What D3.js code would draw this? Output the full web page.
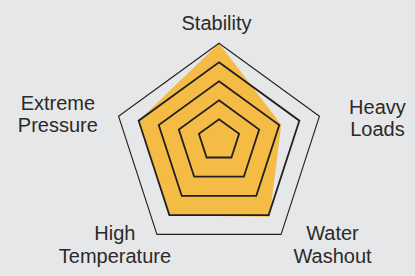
<!DOCTYPE html>
<html><head><meta charset="utf-8">
<script src="https://cdn.jsdelivr.net/npm/d3@7"></script>
<style>
html,body{margin:0;padding:0;background:#e6e7e8;}
svg{display:block;}
</style></head>
<body>
<svg id="chart" width="415" height="276"></svg>
<script>
const axes = ["Stability", "Heavy Loads", "Water Washout", "High Temperature", "Extreme Pressure"];
const axisLabelLines = [["Stability"], ["Heavy", "Loads"], ["Water", "Washout"], ["High", "Temperature"], ["Extreme", "Pressure"]];
const values = [5, 3.1, 4.08, 4, 4];
const levels = [1, 2, 3, 4, 5];
const maxValue = 5;

const W = 415, H = 276;
const cx = 219;
const svg = d3.select("#chart");
svg.append("rect").attr("width", W).attr("height", H).attr("fill", "#e6e7e8");

const r = d3.scaleLinear().domain([0, maxValue]).range([0, 105.6]);
const cy = d3.scaleLinear().domain([0, maxValue]).range([138.3, 148.9]);
const angle = d3.scalePoint().domain(axes).range([0, 2 * Math.PI * (axes.length - 1) / axes.length]);

function pt(axis, v) {
  const a = angle(axis);
  return [cx + r(v) * Math.sin(a), cy(v) - r(v) * Math.cos(a)];
}
const line = d3.line().curve(d3.curveLinearClosed);

// data polygon
svg.append("path")
  .attr("d", line(axes.map((a, i) => pt(a, values[i]))))
  .attr("fill", "#f4bb45");

// rings
svg.selectAll("path.ring").data(levels).enter().append("path")
  .attr("class", "ring")
  .attr("d", l => line(axes.map(a => pt(a, l))))
  .attr("fill", "none")
  .attr("stroke", "#231f20")
  .attr("stroke-width", l => l === maxValue ? 1.1 : 1.8)
  .attr("stroke-linejoin", "miter");

// labels
const labelOffset = [[-2.5, -13.3], [58, -2.7], [51.4, 5.7], [-42, 5.7], [-60.7, -6.7]];
const lineH = 22.6;
axes.forEach((a, i) => {
  const [x, y] = pt(a, maxValue);
  const t = svg.append("text")
    .attr("x", x + labelOffset[i][0])
    .attr("y", y + labelOffset[i][1])
    .attr("text-anchor", "middle")
    .attr("font-family", "'Liberation Sans', Arial, Helvetica, sans-serif")
    .attr("font-size", 20)
    .attr("fill", "#2b2a2a");
  axisLabelLines[i].forEach((s, j) => {
    t.append("tspan").attr("x", x + labelOffset[i][0]).attr("dy", j === 0 ? 0 : lineH).text(s);
  });
});
</script>
</body></html>
